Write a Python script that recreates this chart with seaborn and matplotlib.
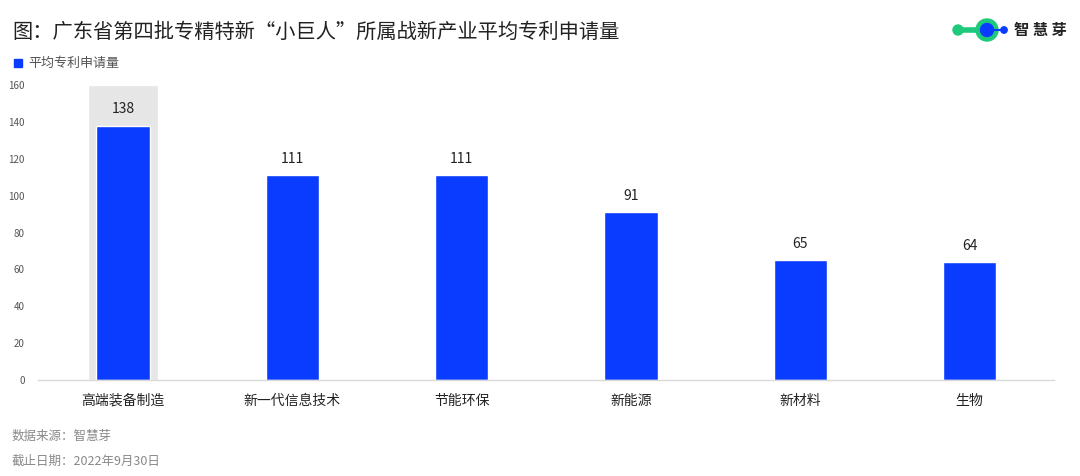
import matplotlib
matplotlib.use("Agg")
import matplotlib.pyplot as plt
import seaborn as sns
import pandas as pd
from matplotlib.patches import Circle, Rectangle

# 数据
industries = ["高端装备制造", "新一代信息技术", "节能环保", "新能源", "新材料", "生物"]
patents = [138, 111, 111, 91, 65, 64]
highlight = [160, 0, 0, 0, 0, 0]
y_ticks = [0, 20, 40, 60, 80, 100, 120, 140, 160]

sns.set_style("white")
plt.rcParams["font.family"] = ["Noto Sans CJK SC", "DejaVu Sans"]

BLUE = "#0A3CFF"
GREEN = "#1DC97A"
GREY_BG = "#E6E6E6"

df = pd.DataFrame({"industry": industries, "value": patents, "bg": highlight})

fig = plt.figure(figsize=(10.8, 4.76), dpi=100)
ax = fig.add_axes([0.0356, 0.2017, 0.9404, 0.6197])

# 背景高亮
sns.barplot(data=df, x="industry", y="bg", color=GREY_BG, width=0.41,
            saturation=1, ax=ax)
sns.barplot(data=df, x="industry", y="value", color=BLUE, width=0.315,
            saturation=1, ax=ax)

for i, v in enumerate(patents):
    ax.text(i, v + 5, f"{v}", ha="center", va="bottom", fontsize=10, color="#222222")

ax.set_xlim(-0.5, len(industries) - 0.5)
ax.set_ylim(0, 160)
ax.set_yticks(y_ticks)
ax.tick_params(axis="y", labelsize=7, colors="#555555", length=0, pad=10)
ax.tick_params(axis="x", labelsize=10, colors="#222222", length=0, pad=10)
ax.set_xlabel("")
ax.set_ylabel("")
for s in ["top", "right", "left"]:
    ax.spines[s].set_visible(False)
ax.spines["bottom"].set_color("#D9D9D9")
ax.spines["bottom"].set_linewidth(1)

# 标题
fig.text(12 / 1080, 1 - 32 / 476, "图：广东省第四批专精特新“小巨人”所属战新产业平均专利申请量",
         fontsize=14.6, color="#222222", va="center", ha="left")

# 图例
fig.patches.append(Rectangle((14 / 1080, 1 - 67 / 476), 8 / 1080, 8 / 476,
                             transform=fig.transFigure, color=BLUE))
fig.text(28 / 1080, 1 - 63 / 476, "平均专利申请量", fontsize=9.4, color="#555555",
         va="center", ha="left")

# logo
ax_logo = fig.add_axes([940 / 1080, 1 - 45 / 476, 80 / 1080, 30 / 476])
ax_logo.set_xlim(940, 1020)
ax_logo.set_ylim(45, 15)
ax_logo.axis("off")
ax_logo.plot([958, 985], [30, 30], color=GREEN, lw=4, zorder=1)
ax_logo.add_patch(Circle((958, 30), 5, color=GREEN, zorder=2))
ax_logo.add_patch(Circle((987, 30), 11, color=GREEN, zorder=2))
ax_logo.add_patch(Circle((987, 30), 6.5, color=BLUE, zorder=3))
ax_logo.plot([990, 1004], [30, 30], color=BLUE, lw=1.5, zorder=3)
ax_logo.add_patch(Circle((1004, 30), 3.2, color=BLUE, zorder=4))
fig.text(1014 / 1080, 1 - 30 / 476, "智 慧 芽", fontsize=11, color="#222222",
         va="center", ha="left", fontweight="bold")

# 来源
fig.text(12 / 1080, 1 - 436 / 476, "数据来源：智慧芽", fontsize=9, color="#888888",
         va="center", ha="left")
fig.text(12 / 1080, 1 - 461 / 476, "截止日期：2022年9月30日", fontsize=9, color="#888888",
         va="center", ha="left")

fig.savefig("out.png", dpi=100)
